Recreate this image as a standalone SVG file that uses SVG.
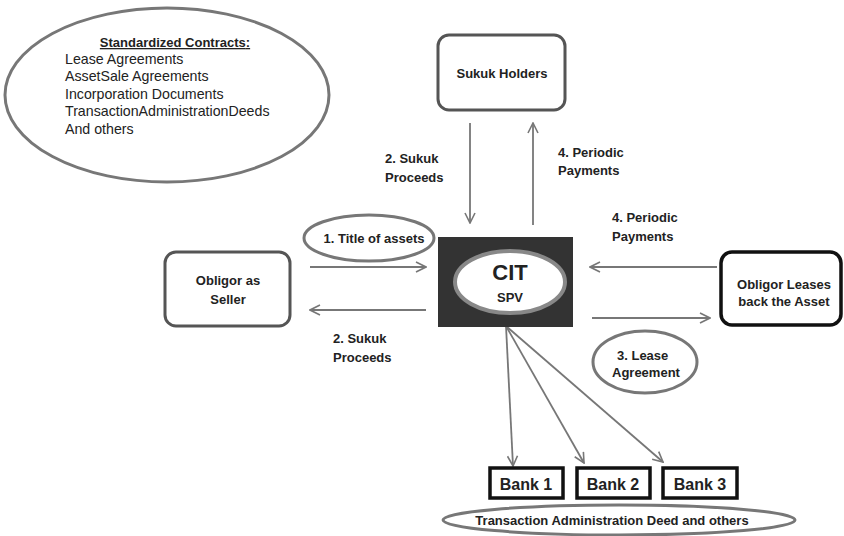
<svg xmlns="http://www.w3.org/2000/svg" width="844" height="536" viewBox="0 0 844 536">
<defs>
<marker id="arr" viewBox="0 0 12 12" refX="11" refY="6" markerWidth="12" markerHeight="12" markerUnits="userSpaceOnUse" orient="auto">
<path d="M1,1 L11,6 L1,11" fill="none" stroke="#777" stroke-width="1.6"/>
</marker>
<style>
text{font-family:"Liberation Sans",Arial,sans-serif;fill:#222}
.b{font-weight:bold;font-size:13px}
.n{font-size:14.2px}
.box{fill:#fff;stroke:#555;stroke-width:3}
.bk{fill:#fff;stroke:#111;stroke-width:3.5}
.ell{fill:none;stroke:#777;stroke-width:3}
.c{stroke:#777;stroke-width:1.8;fill:none;marker-end:url(#arr)}
</style>
</defs>
<rect width="844" height="536" fill="#fff"/>
<g id="contracts">
<ellipse cx="167" cy="95" rx="162" ry="87" class="ell" fill="#fff"/>
<text x="175" y="47" class="b" text-anchor="middle" text-decoration="underline">Standardized Contracts<tspan text-decoration="none">:</tspan></text>
<text x="65" y="64" class="n">Lease Agreements</text>
<text x="65" y="81" class="n">AssetSale Agreements</text>
<text x="65" y="99" class="n">Incorporation Documents</text>
<text x="65" y="116" class="n">TransactionAdministrationDeeds</text>
<text x="65" y="134" class="n">And others</text>
</g>
<g id="connectors">
<line x1="470" y1="123" x2="470" y2="223" class="c"/>
<line x1="533" y1="225" x2="533" y2="123" class="c"/>
<line x1="310" y1="267" x2="426" y2="267" class="c"/>
<line x1="426" y1="310" x2="310" y2="310" class="c"/>
<line x1="717" y1="267" x2="590" y2="267" class="c"/>
<line x1="592" y1="318" x2="710" y2="318" class="c"/>
<line x1="506" y1="326" x2="513" y2="466" class="c"/>
<line x1="506" y1="326" x2="584" y2="463" class="c"/>
<line x1="506" y1="326" x2="663" y2="462" class="c"/>
</g>
<g id="sukuk-holders">
<rect x="438" y="35" width="127" height="75" rx="11" class="box"/>
<text x="502" y="78" class="b" text-anchor="middle">Sukuk Holders</text>
</g>
<g id="cit">
<rect x="438" y="237" width="135" height="90" fill="#333"/>
<ellipse cx="510" cy="282" rx="55" ry="31" fill="#fff" stroke="#888" stroke-width="4"/>
<text x="510" y="280" font-size="22" font-weight="bold" text-anchor="middle">CIT</text>
<text x="510" y="302" class="b" text-anchor="middle">SPV</text>
</g>
<g id="title-assets">
<ellipse cx="369" cy="238" rx="65" ry="23" class="ell"/>
<text x="374" y="243" class="b" text-anchor="middle">1. Title of assets</text>
</g>
<g id="obligor-seller">
<rect x="165" y="252" width="125" height="74" rx="11" class="box"/>
<text x="228" y="285" class="b" text-anchor="middle">Obligor as</text>
<text x="228" y="304" class="b" text-anchor="middle">Seller</text>
</g>
<g id="obligor-leases">
<rect x="721" y="252" width="120" height="73" rx="11" class="bk"/>
<text x="784" y="289" class="b" text-anchor="middle">Obligor Leases</text>
<text x="784" y="306" class="b" text-anchor="middle">back the Asset</text>
</g>
<g id="lease-agreement">
<ellipse cx="645" cy="362" rx="52" ry="31" class="ell"/>
<text x="617" y="360" class="b">3. Lease</text>
<text x="612" y="377" class="b">Agreement</text>
</g>
<g id="labels">
<text x="385" y="163" class="b">2. Sukuk</text>
<text x="385" y="182" class="b">Proceeds</text>
<text x="558" y="157" class="b">4. Periodic</text>
<text x="558" y="175" class="b">Payments</text>
<text x="612" y="222" class="b">4. Periodic</text>
<text x="612" y="241" class="b">Payments</text>
<text x="333" y="343" class="b">2. Sukuk</text>
<text x="333" y="362" class="b">Proceeds</text>
</g>
<g id="bank1">
<rect x="490" y="468" width="73" height="30" class="bk"/>
<text x="526" y="490" font-size="16" font-weight="bold" text-anchor="middle">Bank 1</text>
</g>
<g id="bank2">
<rect x="577" y="468" width="73" height="30" class="bk"/>
<text x="613" y="490" font-size="16" font-weight="bold" text-anchor="middle">Bank 2</text>
</g>
<g id="bank3">
<rect x="663" y="468" width="74" height="30" class="bk"/>
<text x="700" y="490" font-size="16" font-weight="bold" text-anchor="middle">Bank 3</text>
</g>
<g id="deed">
<ellipse cx="619" cy="520" rx="176" ry="15" class="ell"/>
<text x="612" y="525" class="b" text-anchor="middle">Transaction Administration Deed and others</text>
</g>
</svg>
